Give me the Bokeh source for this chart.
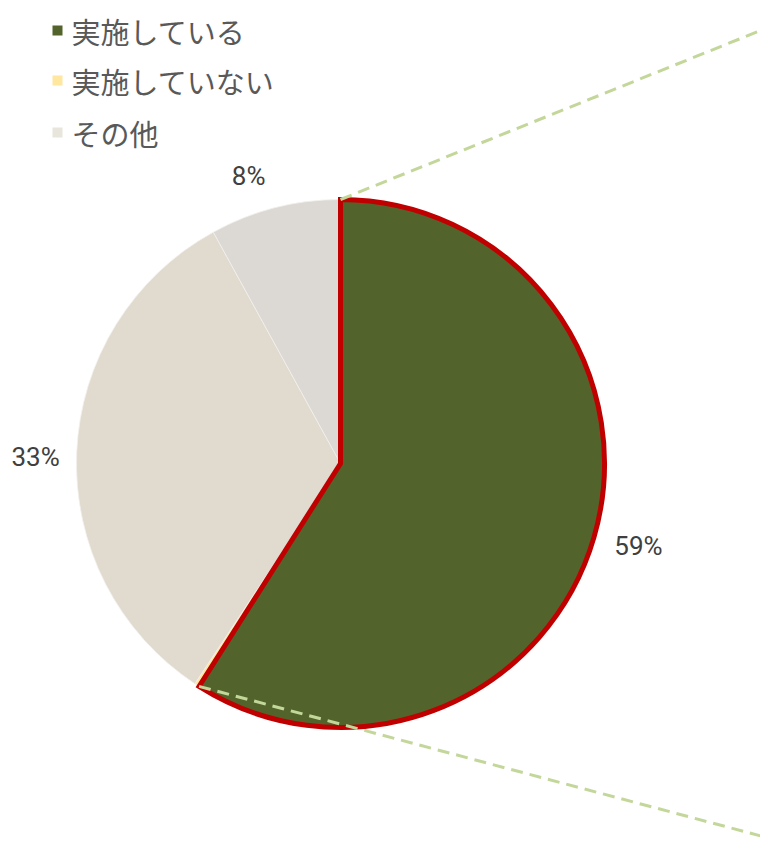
import math
from bokeh.plotting import figure
from bokeh.models import Range1d, ColumnDataSource
from bokeh.core.properties import value
from bokeh.embed import file_html
from bokeh.resources import INLINE

# ---- data ----
pie_values = [59, 0.3, 32.7, 8]
pie_colors = ["#52642b", "#ffe7a0", "#e0dacf", "#dcd9d5"]
pie_labels = ["59%", "", "33%", "8%"]
legend_labels = ["実施している", "実施していない", "その他"]
legend_colors = ["#52642b", "#ffe7a0", "#e8e6dc"]

# ---- layout ----
W, H = 760, 864
CX, CY = 340, 864 - 463
R = 264
label_r = [309, 0, 305, 302]
label_dang = [0.8, 0, 1.2, 3.3]

p = figure(width=W, height=H, x_range=Range1d(0, 760), y_range=Range1d(0, 864),
           output_backend="svg", toolbar_location=None, min_border=0)
p.axis.visible = False
p.grid.visible = False
p.outline_line_color = None
p.background_fill_color = "white"

total = sum(pie_values)
cum = 0.0
starts, ends = [], []
for v in pie_values:
    a0 = cum / total * 2 * math.pi
    cum += v
    a1 = cum / total * 2 * math.pi
    starts.append(math.pi / 2 - a1)
    ends.append(math.pi / 2 - a0)

# other slices first
for i in range(1, len(pie_values)):
    p.wedge(x=CX, y=CY, radius=R, start_angle=starts[i], end_angle=ends[i],
            fill_color=pie_colors[i], line_color="#f2f0ec", line_width=0.8)
# highlighted slice
p.wedge(x=CX, y=CY, radius=R, start_angle=starts[0], end_angle=ends[0],
        fill_color=pie_colors[0], line_color="#c00000", line_width=5,
        line_join="miter")

# connector dashed lines (pie-of-pie style)
a_top = ends[0]
a_bot = starts[0]
p.line([CX + R * math.cos(a_top), 770], [CY + R * math.sin(a_top), 864 - 26],
       line_color="#c4d79b", line_width=3, line_dash="12 7")
p.line([CX + R * math.cos(a_bot), 770], [CY + R * math.sin(a_bot), 864 - 838],
       line_color="#c4d79b", line_width=3, line_dash="12 7")

# percentage labels
lx, ly, lt = [], [], []
for i, t in enumerate(pie_labels):
    if not t:
        continue
    mid = (starts[i] + ends[i]) / 2 + math.radians(label_dang[i])
    lx.append(CX + label_r[i] * math.cos(mid))
    ly.append(CY + label_r[i] * math.sin(mid))
    lt.append(t)
p.text(x=lx, y=ly, text=lt, text_align="center", text_baseline="middle",
       text_font=value("Roboto"), text_font_size="26px",
       text_color="#404040")

# legend
leg_y = [864 - 30, 864 - 80, 864 - 132]
src = ColumnDataSource(dict(x=[57] * 3, tx=[71] * 3, y=leg_y,
                            c=legend_colors, t=legend_labels))
p.scatter(x="x", y="y", marker="square", size=10, fill_color="c",
          line_color=None, source=src)
p.text(x="tx", y="y", text="t", text_align="left", text_baseline="middle",
       text_font=value("Noto Sans CJK JP"), text_font_size="29px",
       text_color="#595959", source=src)

open("out.html", "w").write(file_html(p, INLINE))
